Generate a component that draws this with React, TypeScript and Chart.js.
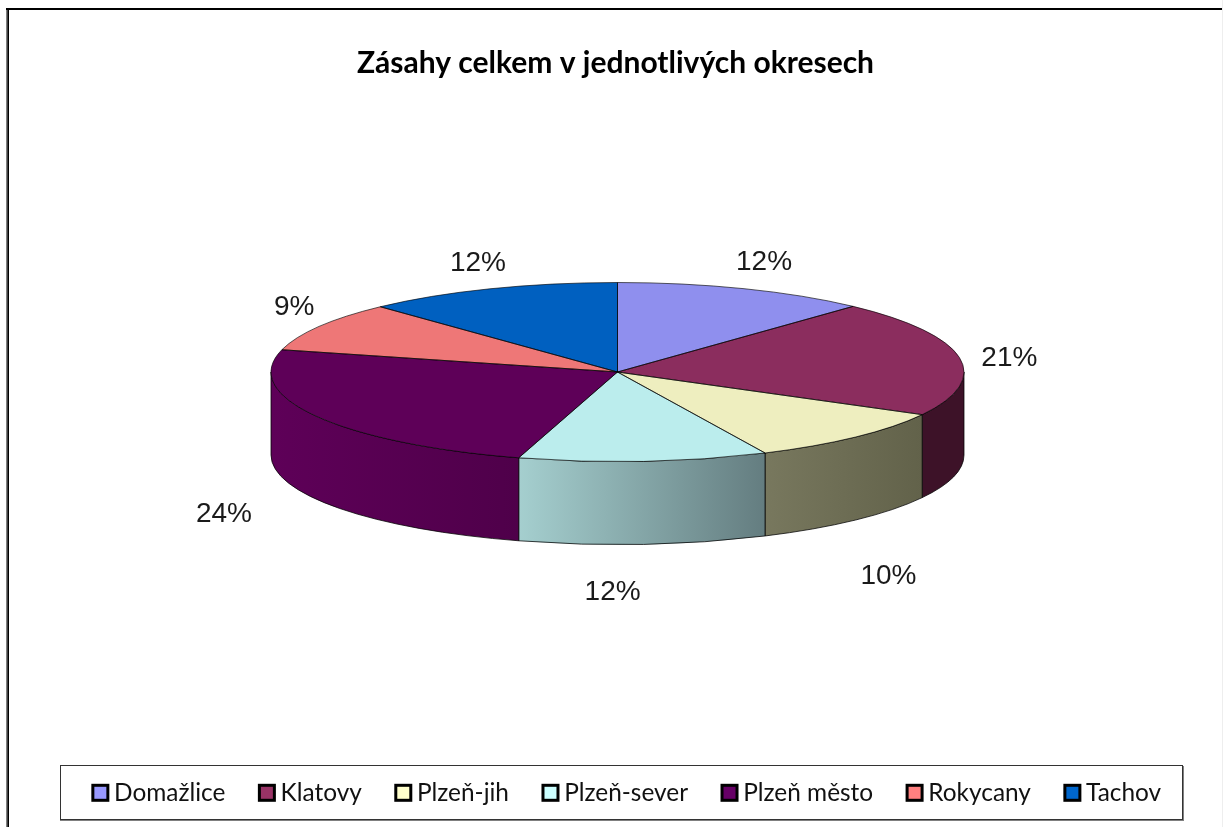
import React, { useEffect, useRef } from "react";
import { Chart, registerables } from "chart.js";

Chart.register(...registerables);

const titleText = "Zásahy celkem v jednotlivých okresech";
const districts = ["Domažlice", "Klatovy", "Plzeň-jih", "Plzeň-sever", "Plzeň město", "Rokycany", "Tachov"];
const shares = [11.9, 21.0, 10.1, 11.6, 24.4, 9.0, 12.0];
const faceColors = ["#8f8fee", "#8b2d5e", "#eeeebf", "#bbeded", "#5e0058", "#ee7777", "#0060c0"];
const legendColors = ["#9999ff", "#993366", "#ffffcc", "#ccffff", "#660066", "#ff8080", "#0066cc"];
const wallLeftColors = ["#6b6bb3", "#3d1228", "#78785e", "#a5cfcf", "#5e0058", "#b35a5a", "#004890"];
const wallRightColors = ["#6b6bb3", "#3d1228", "#62624a", "#647d80", "#4f004a", "#b35a5a", "#004890"];
const labelOffsetX = [20, 50, 33, -31, -92, -25, -12];
const labelOffsetY = [-26, 1, 56, 48, 15, -19, -26];

const W = 1223;
const H = 827;
const FACE_X = 617.5;
const FACE_Y = 372;
const RX = 346.5;
const RY = 89.5;
const DEPTH = 83;
const K = RY / RX;

const threeD = {
  id: "threeD",
  beforeDraw(chart: any) {
    const ctx = chart.ctx;
    ctx.save();
    ctx.fillStyle = "#ffffff";
    ctx.fillRect(0, 0, W, H);
    ctx.fillStyle = "#808080";
    ctx.fillRect(6, 8, 2, H);
    ctx.fillStyle = "#000000";
    ctx.fillRect(7.5, 8, 1.5, H);
    ctx.fillRect(6, 8, W, 2);
    ctx.fillStyle = "#eeeeee";
    ctx.fillRect(1222, 0, 1, H);
    // legend frame
    ctx.fillStyle = "#808080";
    ctx.fillRect(60, 820, 1124, 1);
    ctx.fillRect(1183, 766, 1, 55);
    ctx.strokeStyle = "#333333";
    ctx.lineWidth = 1;
    ctx.strokeRect(60.5, 765.5, 1122, 54);
    ctx.restore();
  },
  afterLayout(chart: any) {
    // the title sits left of the legend's centre
    chart.titleBlock.left -= 22;
  },
  beforeDatasetsDraw(chart: any) {
    const ctx = chart.ctx;
    chart.getDatasetMeta(0).data.forEach((arc: any, i: number) => {
      const lo = Math.max(arc.startAngle, 0);
      const hi = Math.min(arc.endAngle, Math.PI);
      if (hi <= lo) return;
      const r = arc.outerRadius;
      const x0 = FACE_X + r * Math.cos(hi);
      const x1 = FACE_X + r * Math.cos(lo);
      const g = ctx.createLinearGradient(x0, 0, x1, 0);
      g.addColorStop(0, wallLeftColors[i]);
      g.addColorStop(1, wallRightColors[i]);
      ctx.save();
      ctx.beginPath();
      ctx.ellipse(FACE_X, FACE_Y, r, r * K, 0, lo, hi);
      ctx.ellipse(FACE_X, FACE_Y + DEPTH, r, r * K, 0, hi, lo, true);
      ctx.closePath();
      ctx.fillStyle = g;
      ctx.fill();
      ctx.strokeStyle = "rgba(0,0,0,0.75)";
      ctx.lineWidth = 1;
      ctx.stroke();
      ctx.restore();
    });
  },
  beforeDatasetDraw(chart: any) {
    const ctx = chart.ctx;
    const arc = chart.getDatasetMeta(0).data[0];
    ctx.save();
    ctx.translate(FACE_X, FACE_Y);
    ctx.scale(1, K);
    ctx.translate(-arc.x, -arc.y);
  },
  afterDatasetDraw(chart: any) {
    const ctx = chart.ctx;
    ctx.restore();
    chart.getDatasetMeta(0).data.forEach((arc: any) => {
      const r = arc.outerRadius;
      ctx.save();
      ctx.beginPath();
      ctx.moveTo(FACE_X, FACE_Y);
      ctx.ellipse(FACE_X, FACE_Y, r, r * K, 0, arc.startAngle, arc.endAngle);
      ctx.closePath();
      ctx.strokeStyle = "rgba(0,0,0,0.7)";
      ctx.lineWidth = 0.9;
      ctx.stroke();
      ctx.restore();
    });
  },
  afterDraw(chart: any) {
    const ctx = chart.ctx;
    const total = shares.reduce((a, b) => a + b, 0);
    ctx.save();
    ctx.font = "28px 'Liberation Sans'";
    ctx.fillStyle = "#1a1a1a";
    ctx.textAlign = "center";
    ctx.textBaseline = "middle";
    chart.getDatasetMeta(0).data.forEach((arc: any, i: number) => {
      const mid = (arc.startAngle + arc.endAngle) / 2;
      const s = Math.sin(mid);
      const x = FACE_X + arc.outerRadius * Math.cos(mid) + labelOffsetX[i];
      const y = FACE_Y + arc.outerRadius * K * s + (s > 0 ? DEPTH : 0) + labelOffsetY[i];
      ctx.fillText(Math.round((shares[i] / total) * 100) + "%", x, y);
    });
    // legend swatches, with their black frame
    chart.legend.legendHitBoxes.forEach((box: any, i: number) => {
      const cy = box.top + box.height / 2;
      ctx.fillStyle = legendColors[i];
      ctx.fillRect(box.left + 1, cy - 7.5, 15, 15);
      ctx.strokeStyle = "#000000";
      ctx.lineWidth = 3;
      ctx.strokeRect(box.left + 1, cy - 7.5, 15, 15);
    });
    ctx.restore();
  },
};

export default function App() {
  const ref = useRef<HTMLCanvasElement>(null);
  useEffect(() => {
    const chart = new Chart(ref.current as HTMLCanvasElement, {
      type: "pie",
      data: {
        labels: districts,
        datasets: [
          {
            data: shares,
            backgroundColor: faceColors,
            borderWidth: 0,
            radius: RX,
            clip: false,
          } as any,
        ],
      },
      options: {
        responsive: false,
        animation: false,
        layout: { padding: { left: 30, right: 0, top: 0, bottom: 12 } },
        plugins: {
          tooltip: { enabled: false },
          title: {
            display: true,
            text: titleText,
            color: "#000000",
            font: { family: "Lato", size: 30, weight: "bold" },
            padding: { top: 45, bottom: 10 },
          },
          legend: {
            display: true,
            position: "bottom",
            labels: {
              boxWidth: 10,
              boxHeight: 10,
              padding: 33,
              color: "#111111",
              font: { family: "Lato", size: 24.4 },
            },
          },
        },
      },
      plugins: [threeD],
    } as any);
    return () => chart.destroy();
  }, []);
  return (
    <div style={{ position: "fixed", left: 0, top: 0, width: W, height: H, background: "#fff" }}>
      <canvas ref={ref} width={W} height={H} style={{ display: "block" }} />
    </div>
  );
}
